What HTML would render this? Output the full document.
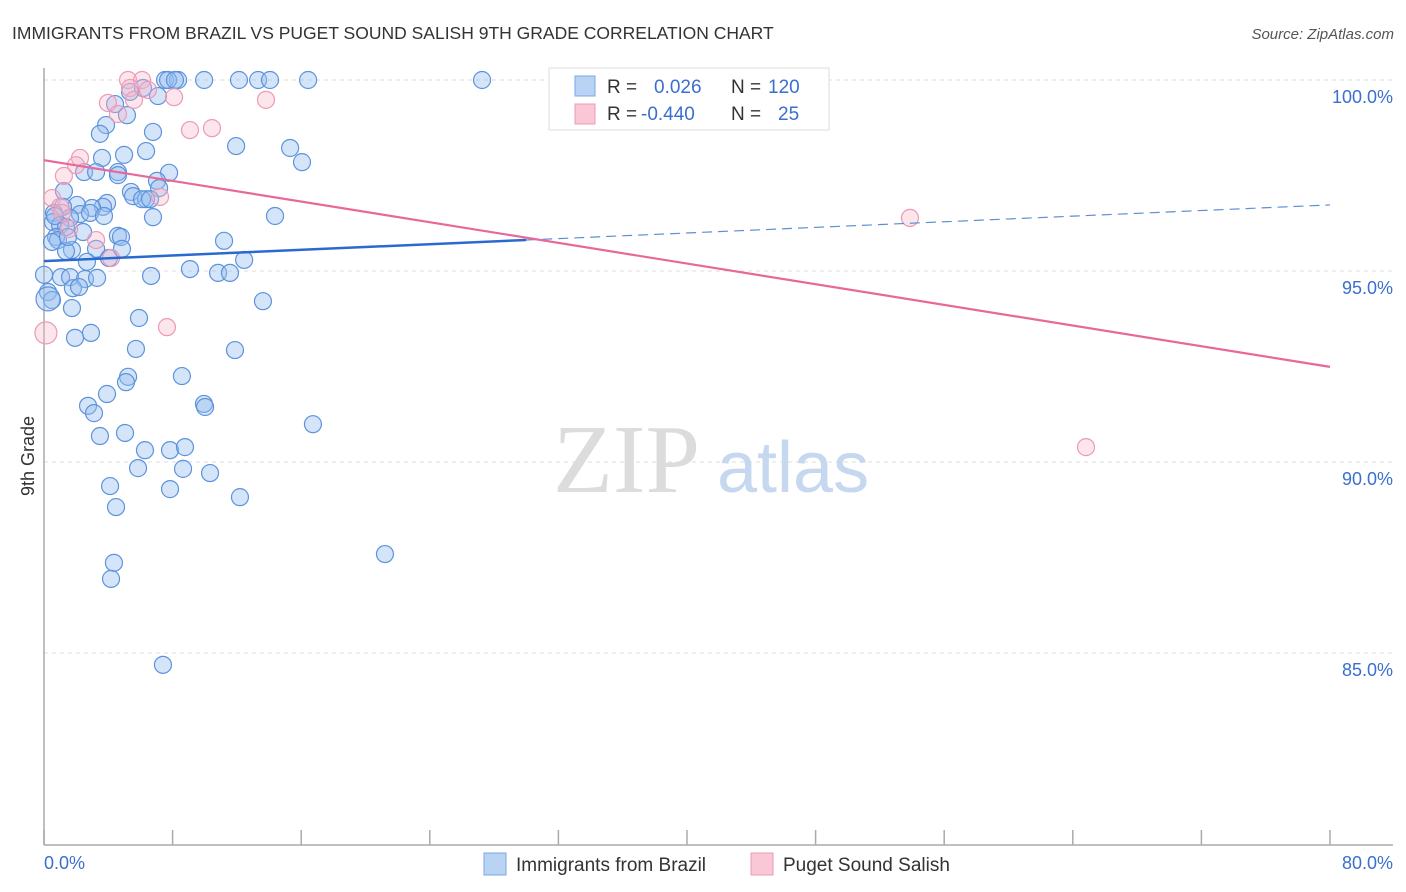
<!DOCTYPE html>
<html><head><meta charset="utf-8"><style>
body{margin:0;background:#fff;font-family:"Liberation Sans",sans-serif;}
svg{display:block}
</style></head><body>
<svg id="chart" width="1406" height="892" xmlns="http://www.w3.org/2000/svg">
<text x="12" y="39" font-size="17.5" fill="#333">IMMIGRANTS FROM BRAZIL VS PUGET SOUND SALISH 9TH GRADE CORRELATION CHART</text>
<text x="1394" y="39" font-size="15" fill="#555" font-style="italic" text-anchor="end">Source: ZipAtlas.com</text>
<g id="grid"></g>
<g>
<text x="553" y="492" font-family="Liberation Serif,serif" font-size="98" fill="#dcdcdc">ZIP</text>
<text x="717" y="492" font-size="72" fill="#c5d8f0">atlas</text>
</g>
<line x1="44" y1="68" x2="44" y2="845" stroke="#aaa" stroke-width="1.5"/>
<line x1="44" y1="845" x2="1393" y2="845" stroke="#aaa" stroke-width="1.5"/>
<g id="xticks"></g>
<g id="ylabels"></g>
<text x="44" y="869" font-size="18" fill="#3a6fcf">0.0%</text>
<text x="1393" y="869" font-size="18" fill="#3a6fcf" text-anchor="end">80.0%</text>
<text transform="translate(34,456) rotate(-90)" font-size="18" fill="#333" text-anchor="middle">9th Grade</text>
<g id="pts-blue"></g>
<g id="pts-pink"></g>
<g id="lines"></g>
<g>
<rect x="549" y="68" width="280" height="62" fill="#fff" stroke="#ddd"/>
<rect x="575" y="76" width="20" height="20" fill="#b9d3f5" stroke="#7aa7e4"/>
<rect x="575" y="104" width="20" height="20" fill="#f9c7d6" stroke="#ea9bb6"/>
<text x="607" y="93" font-size="19" fill="#333">R = </text>
<text x="654" y="93" font-size="19" fill="#3a6fcf">0.026</text>
<text x="731" y="93" font-size="19" fill="#333">N = </text>
<text x="768" y="93" font-size="19" fill="#3a6fcf">120</text>
<text x="607" y="120" font-size="19" fill="#333">R = </text>
<text x="641" y="120" font-size="19" fill="#3a6fcf">-0.440</text>
<text x="731" y="120" font-size="19" fill="#333">N = </text>
<text x="778" y="120" font-size="19" fill="#3a6fcf">25</text>
</g>
<g>
<rect x="484" y="853" width="22" height="22" fill="#b9d3f5" stroke="#7aa7e4"/>
<text x="516" y="871" font-size="19" fill="#333">Immigrants from Brazil</text>
<rect x="751" y="853" width="22" height="22" fill="#f9c7d6" stroke="#ea9bb6"/>
<text x="783" y="871" font-size="19" fill="#333">Puget Sound Salish</text>
</g>
</svg>
<script>
const yTicks=[100,95,90,85];
const xTickVals=[0,8,16,24,32,40,48,56,64,72,80];
const blueX=[7.53,8.34,9.96,12.13,13.32,14.06,16.43,27.25,7.72,8.15,6.16,5.35,7.09,4.42,5.16,3.86,3.48,6.78,4.98,6.35,11.95,15.31,16.05,3.61,2.49,3.24,4.60,4.60,7.78,7.03,7.16,5.41,5.54,1.24,6.35,6.10,6.60,3.92,3.67,2.99,2.05,1.18,0.62,0.56,6.78,14.37,2.24,2.86,1.62,3.73,1.00,2.43,1.37,0.75,0.87,0.50,4.60,4.79,11.20,1.74,1.37,3.24,4.85,4.04,12.45,9.08,10.83,11.57,6.66,0.0,1.06,1.62,2.55,3.30,1.80,2.18,0.25,0.50,13.62,1.74,5.91,2.92,1.93,5.72,11.88,5.23,5.10,8.58,3.92,2.74,3.11,9.95,10.02,16.73,5.04,3.48,6.28,7.84,8.77,5.85,8.65,10.33,4.11,7.84,12.19,4.48,21.21,4.35,4.17,7.40,1.49,2.67,0.68,0.25];
const blueY=[100,100,100,100,100,100,100,100,100,100,99.79,99.69,99.58,99.37,99.08,98.82,98.59,98.64,98.04,98.14,98.27,98.22,97.85,97.96,97.59,97.59,97.59,97.51,97.57,97.36,97.17,97.07,96.96,97.09,96.88,96.88,96.88,96.78,96.68,96.65,96.73,96.68,96.52,96.28,96.41,96.44,96.49,96.52,96.39,96.44,96.20,96.02,96.15,95.89,95.81,95.76,95.92,95.89,95.79,95.55,95.52,95.58,95.58,95.34,95.29,95.05,94.95,94.95,94.87,94.90,94.84,94.84,94.79,94.82,94.55,94.58,94.45,94.24,94.21,94.03,93.77,93.38,93.25,92.96,92.93,92.23,92.09,92.25,91.78,91.47,91.28,91.52,91.44,90.99,90.76,90.68,90.31,90.31,90.39,89.84,89.82,89.71,89.37,89.29,89.08,88.82,87.59,87.36,86.94,84.69,95.89,95.24,96.44,94.27];
const pinkX=[5.23,6.10,5.35,6.47,3.98,8.09,13.81,4.60,10.45,9.08,2.24,1.99,1.24,0.50,7.22,1.00,1.56,3.24,4.17,7.65,0.12,53.87,64.82,1.12,5.60];
const pinkY=[100,100,99.79,99.74,99.40,99.55,99.48,99.11,98.74,98.69,97.96,97.77,97.49,96.91,96.94,96.68,96.10,95.81,95.34,93.53,93.38,96.39,90.39,96.52,99.48];
const blueTrend=[95.26,96.73];
const pinkTrend=[97.90,92.49];
const blueSolidEnd=30;
const NS='http://www.w3.org/2000/svg';
function sx(v){return 44+v*(1286/80);}
function sy(v){return 80+(100-v)*38.2;}
function mk(t,a,p){const e=document.createElementNS(NS,t);for(const k in a)e.setAttribute(k,a[k]);p.appendChild(e);return e;}
const grid=document.getElementById('grid'),yl=document.getElementById('ylabels'),xt=document.getElementById('xticks');
yTicks.forEach(v=>{
 const l=mk('line',{x1:44,x2:1393,y1:sy(v),y2:sy(v),stroke:'#ddd','stroke-dasharray':'4,4'},grid);
 
 
 const t=mk('text',{x:1393,y:sy(v)+23,'font-size':18,fill:'#3a6fcf','text-anchor':'end'},yl);
 t.textContent=v.toFixed(1)+'%';
 
 
});
xTickVals.forEach(v=>{
 const l=mk('line',{x1:sx(v),x2:sx(v),y1:830,y2:845,stroke:'#aaa','stroke-width':1.5},xt);
 
 
});
const gb=document.getElementById('pts-blue');
blueX.forEach((x,i)=>{
 const c=mk('circle',{cx:sx(x),cy:sy(blueY[i]),r:(i===blueX.length-1?12:8.5),fill:'rgba(150,190,240,0.4)',stroke:'#5d93dc','stroke-width':1.2},gb);
 
 
});
const gp=document.getElementById('pts-pink');
pinkX.forEach((x,i)=>{
 const c=mk('circle',{cx:sx(x),cy:sy(pinkY[i]),r:(i===20?11:8.5),fill:'rgba(248,180,200,0.35)',stroke:'#ec9ab6','stroke-width':1.2},gp);
 
 
});
const gl=document.getElementById('lines');
function by(x){return blueTrend[0]+(blueTrend[1]-blueTrend[0])*x/80;}
const b1=mk('line',{x1:sx(0),y1:sy(by(0)),x2:sx(blueSolidEnd),y2:sy(by(blueSolidEnd)),stroke:'#2a6ad0','stroke-width':2.5},gl);


const b2=mk('line',{x1:sx(blueSolidEnd),y1:sy(by(blueSolidEnd)),x2:sx(80),y2:sy(by(80)),stroke:'#5d8fd6','stroke-width':1.2,'stroke-dasharray':'10,6'},gl);


const p1=mk('line',{x1:sx(0),y1:sy(pinkTrend[0]),x2:sx(80),y2:sy(pinkTrend[1]),stroke:'#e8689a','stroke-width':2.2},gl);


</script>
</body></html>
